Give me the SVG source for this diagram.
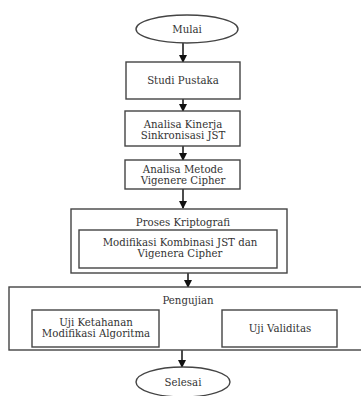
<svg xmlns="http://www.w3.org/2000/svg" width="361" height="396" viewBox="0 0 361 396">
<defs>
<marker id="ah" markerWidth="8" markerHeight="8" refX="7" refY="4" orient="auto" markerUnits="userSpaceOnUse">
<path d="M0,0 L8,4 L0,8 Z" fill="#111"/>
</marker>
<style>
.s{fill:#fff;stroke:#444;stroke-width:1.4}
.t{font-family:"DejaVu Serif","Liberation Serif",serif;font-size:10.2px;fill:#333;text-anchor:middle}
.c{stroke:#111;stroke-width:1.5;fill:none}
</style>
</defs>
<rect width="361" height="396" fill="#fff"/>
<g id="connectors">
<line class="c" x1="183" y1="43" x2="183" y2="62" marker-end="url(#ah)"/>
<line class="c" x1="183" y1="99" x2="183" y2="111" marker-end="url(#ah)"/>
<line class="c" x1="183" y1="146" x2="183" y2="160" marker-end="url(#ah)"/>
<line class="c" x1="183" y1="189" x2="183" y2="208" marker-end="url(#ah)"/>
<line class="c" x1="188" y1="273" x2="188" y2="287" marker-end="url(#ah)"/>
<line class="c" x1="182" y1="350" x2="182" y2="367" marker-end="url(#ah)"/>
<line x1="159" y1="329" x2="222" y2="329" stroke="#444" stroke-width="1.2"/>
</g>
<g id="mulai">
<ellipse class="s" cx="187" cy="29" rx="51" ry="14"/>
<text class="t" x="187" y="32.5">Mulai</text>
</g>
<g id="studi">
<rect class="s" x="126" y="62" width="114" height="37"/>
<text class="t" x="183" y="84">Studi Pustaka</text>
</g>
<g id="kinerja">
<rect class="s" x="125" y="111" width="115" height="35"/>
<text class="t" x="183" y="128">Analisa Kinerja</text>
<text class="t" x="183" y="139">Sinkronisasi JST</text>
</g>
<g id="metode">
<rect class="s" x="125" y="160" width="115" height="29"/>
<text class="t" x="183" y="173">Analisa Metode</text>
<text class="t" x="183" y="184">Vigenere Cipher</text>
</g>
<g id="proses">
<rect class="s" x="71" y="209" width="216" height="64"/>
<text class="t" x="183" y="226">Proses Kriptografi</text>
</g>
<g id="modifikasi">
<rect class="s" x="79" y="230" width="198" height="38"/>
<text class="t" x="180" y="246">Modifikasi Kombinasi JST dan</text>
<text class="t" x="180" y="257">Vigenera Cipher</text>
</g>
<g id="pengujian">
<rect class="s" x="9" y="287" width="355" height="63"/>
<text class="t" x="188" y="304">Pengujian</text>
</g>
<g id="ketahanan">
<rect class="s" x="32" y="310" width="127" height="37"/>
<text class="t" x="96" y="326">Uji Ketahanan</text>
<text class="t" x="96" y="337">Modifikasi Algoritma</text>
</g>
<g id="validitas">
<rect class="s" x="222" y="310" width="115" height="37"/>
<text class="t" x="280" y="332">Uji Validitas</text>
</g>
<g id="selesai">
<ellipse class="s" cx="183" cy="382" rx="47" ry="15"/>
<text class="t" x="183" y="386">Selesai</text>
</g>
</svg>
